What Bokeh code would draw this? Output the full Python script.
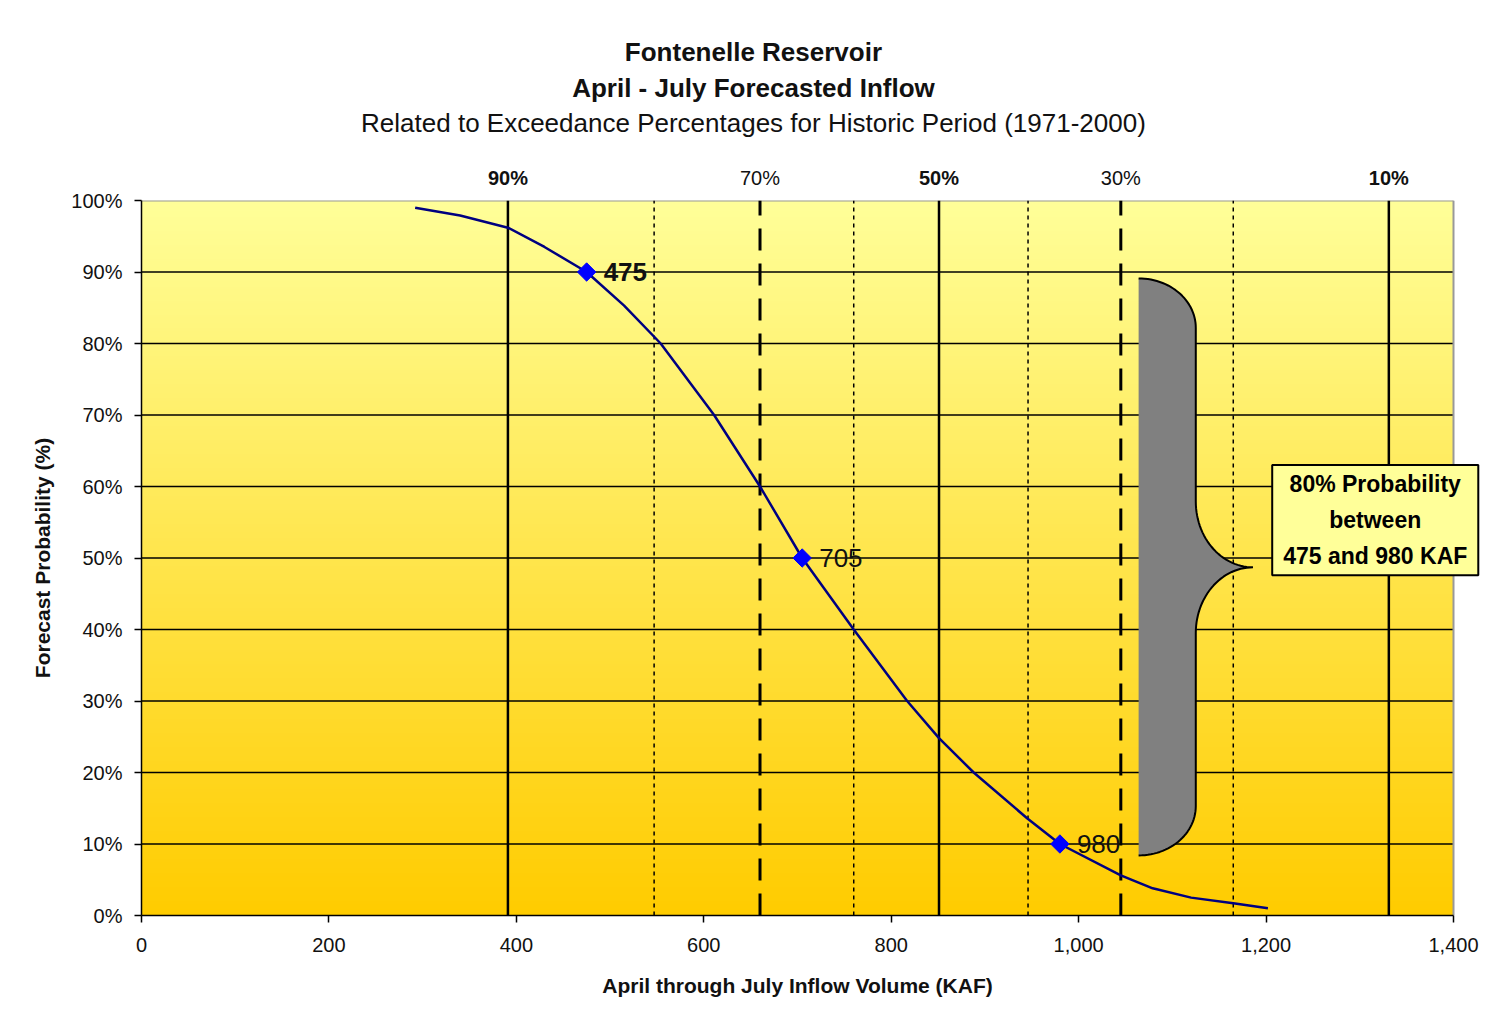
import numpy as np
from bokeh.plotting import figure
from bokeh.layouts import column
from bokeh.models import (Range1d, FixedTicker, PrintfTickFormatter, NumeralTickFormatter,
                          Label, ColumnDataSource)
from bokeh.core.properties import value
from bokeh.embed import file_html
from bokeh.resources import INLINE

# ---------------- data ----------------
curve_kaf = [292, 340, 391, 430, 475, 515, 554, 611, 660, 705, 760, 817, 851,
             888, 945, 980, 1045, 1079, 1120, 1165, 1202]
curve_prob = [99.0, 97.9, 96.2, 93.5, 90.0, 85.3, 80.0, 70.0, 60.0, 50.0, 40.0,
              30.0, 24.8, 20.0, 13.6, 10.0, 5.6, 3.8, 2.5, 1.7, 1.0]

point_kaf = [475, 705, 980]
point_prob = [90, 50, 10]
point_text = ["475", "705", "980"]
point_style = ["bold", "normal", "normal"]

exceed_labels = ["90%", "70%", "50%", "30%", "10%"]
exceed_kaf = [391, 660, 851, 1045, 1331]
exceed_kind = ["solid", "dashed", "solid", "dashed", "solid"]
exceed_style = ["bold", "normal", "bold", "normal", "bold"]
minor_exceed_kaf = [547, 760, 946, 1165]

x_ticks = [0, 200, 400, 600, 800, 1000, 1200, 1400]
y_ticks = [0, 10, 20, 30, 40, 50, 60, 70, 80, 90, 100]

title_lines = ["Fontenelle Reservoir", "April - July Forecasted Inflow",
               "Related to Exceedance Percentages for Historic Period (1971-2000)"]
title_styles = ["bold", "bold", "normal"]
x_label = "April through July Inflow Volume (KAF)"
y_label = "Forecast Probability (%)"

box_text = "80% Probability\nbetween\n475 and 980 KAF"

# brace spanning the 80% interval (data units)
brace_left, brace_shaft, brace_tip = 1064, 1125, 1186
brace_top, brace_mid, brace_bottom = 89.1, 48.7, 8.4
brace_r_end, brace_r_mid = 6.9, 9.2

X_MAX, Y_MAX = 1400, 100
FONT = "Liberation Sans"

# ---------------- layout geometry ----------------
W = 1487
LEFT = 141
TOP_H = 200          # distance from page top to plot-area top
GAP = 12             # part of it kept inside the main figure (room for the 100% label)
PLOT_H = 715         # plot area height
AX_H = 48            # tick label band below plot
XL_H = 1013 - TOP_H - PLOT_H - AX_H
px_per_x = 1312 / X_MAX
px_per_y = PLOT_H / Y_MAX
x_end = (W - LEFT) / px_per_x
xr = Range1d(0, x_end)


def bare_fig(height, y_range):
    f = figure(width=W, height=height, x_range=xr, y_range=y_range, output_backend="svg",
               toolbar_location=None, title=None, x_axis_location=None, y_axis_location=None,
               min_border_left=LEFT, min_border_right=0, min_border_top=0, min_border_bottom=0,
               background_fill_color="white", border_fill_color="white")
    f.outline_line_color = None
    f.xgrid.visible = False
    f.ygrid.visible = False
    return f


# ---------------- top band: titles + exceedance labels ----------------
top = bare_fig(TOP_H - GAP, Range1d(Y_MAX + GAP / px_per_y, Y_MAX + TOP_H / px_per_y))
tsrc = ColumnDataSource(dict(x=[653] * 3, y=[120.7, 115.8, 110.9], text=title_lines,
                             style=title_styles))
top.text(x="x", y="y", text="text", source=tsrc, text_align="center", text_baseline="middle",
         text_font=value(FONT), text_font_size="26px", text_font_style="style",
         text_color="#111111")
label_y = Y_MAX + 23 / px_per_y
esrc = ColumnDataSource(dict(x=exceed_kaf, y=[label_y] * len(exceed_kaf), text=exceed_labels,
                             style=exceed_style))
top.text(x="x", y="y", text="text", source=esrc, text_align="center",
         text_baseline="middle", text_font=value(FONT), text_font_size="20px",
         text_font_style="style", text_color="#111111")

# ---------------- main plot ----------------
p = figure(width=W, height=GAP + PLOT_H + AX_H, x_range=xr, y_range=Range1d(0, Y_MAX),
           output_backend="svg", toolbar_location=None, title=None,
           min_border_left=LEFT, min_border_right=0, min_border_top=GAP, min_border_bottom=AX_H,
           background_fill_color="white", border_fill_color="white")
p.outline_line_color = None
p.xgrid.visible = False
p.ygrid.visible = False

# gradient background of the plot area
n = 256
t = np.linspace(0, 1, n)  # bottom -> top
img = np.empty((n, 1), dtype=np.uint32)
view = img.view(dtype=np.uint8).reshape((n, 1, 4))
view[:, 0, 0] = 255
view[:, 0, 1] = (204 + 51 * t).astype(np.uint8)
view[:, 0, 2] = (153 * t).astype(np.uint8)
view[:, 0, 3] = 255
ir = p.image_rgba(image=[img], x=0, y=0, dw=X_MAX, dh=Y_MAX)
ir.level = "image"

# horizontal grid lines
gy = y_ticks[1:-1]
p.segment(x0=[0] * len(gy), x1=[X_MAX] * len(gy), y0=gy, y1=gy, line_color="black", line_width=1.5)
# gray top / right border of plot area
p.segment(x0=[0, X_MAX], x1=[X_MAX, X_MAX], y0=[Y_MAX, 0], y1=[Y_MAX, Y_MAX],
          line_color="#999999", line_width=2)

# exceedance vertical lines
solid_x = [x for x, k in zip(exceed_kaf, exceed_kind) if k == "solid"]
dashed_x = [x for x, k in zip(exceed_kaf, exceed_kind) if k == "dashed"]
p.segment(x0=solid_x, x1=solid_x, y0=[0] * len(solid_x), y1=[Y_MAX] * len(solid_x),
          line_color="black", line_width=2.5)
p.segment(x0=dashed_x, x1=dashed_x, y0=[0] * len(dashed_x), y1=[Y_MAX] * len(dashed_x),
          line_color="black", line_width=3, line_dash="22 13")
p.segment(x0=minor_exceed_kaf, x1=minor_exceed_kaf, y0=[0] * len(minor_exceed_kaf),
          y1=[Y_MAX] * len(minor_exceed_kaf), line_color="black", line_width=1.5, line_dash="4 4")

# brace
L, S, T = brace_left, brace_shaft, brace_tip
a1 = np.linspace(np.pi / 2, 0, 30)
a2 = np.linspace(np.pi, 1.5 * np.pi, 30)
a3 = np.linspace(0.5 * np.pi, np.pi, 30)
a4 = np.linspace(0, -np.pi / 2, 30)
bx = np.concatenate([L + (S - L) * np.cos(a1), T + (T - S) * np.cos(a2),
                     T + (T - S) * np.cos(a3), L + (S - L) * np.cos(a4)])
by = np.concatenate([(brace_top - brace_r_end) + brace_r_end * np.sin(a1),
                     (brace_mid + brace_r_mid) + brace_r_mid * np.sin(a2),
                     (brace_mid - brace_r_mid) + brace_r_mid * np.sin(a3),
                     (brace_bottom + brace_r_end) + brace_r_end * np.sin(a4)])
p.patch(x=list(bx) + [L], y=list(by) + [brace_top], fill_color="#808080", line_color=None)
p.line(x=bx, y=by, line_color="black", line_width=2)

# curve and points
p.line(x=curve_kaf, y=curve_prob, line_color="#000080", line_width=2.5)
p.scatter(x=point_kaf, y=point_prob, marker="square", angle=np.pi / 4, size=13,
          fill_color="#0000FF", line_color="#0000FF")
src = ColumnDataSource(dict(x=point_kaf, y=point_prob, text=point_text, style=point_style))
p.text(x="x", y="y", text="text", source=src, x_offset=17, text_baseline="middle",
       text_align="left", text_font=value(FONT), text_font_size="26px",
       text_font_style="style", text_color="#111111")

# annotation box
p.add_layout(Label(x=1316.5, y=55.3, text=box_text, text_align="center", text_baseline="middle",
                   text_font=FONT, text_font_size="23px", text_font_style="bold",
                   text_color="black", text_line_height=1.39,
                   background_fill_color="#FFFF99", border_line_color="black",
                   border_line_width=2, padding=dict(left=11, right=11, top=6, bottom=6)))

# axes
for ax in (p.xaxis, p.yaxis):
    ax.axis_line_color = "black"
    ax.axis_line_width = 1.5
    ax.major_tick_line_color = "black"
    ax.major_tick_line_width = 1.5
    ax.major_tick_in = 0
    ax.major_tick_out = 7
    ax.minor_tick_line_color = None
    ax.major_label_text_font = FONT
    ax.major_label_text_font_size = "20px"
    ax.major_label_text_color = "#111111"
    ax.axis_label_text_font = FONT
    ax.axis_label_text_font_size = "21px"
    ax.axis_label_text_font_style = "bold"
    ax.axis_label_text_color = "#111111"

p.xaxis.bounds = (0, X_MAX)
p.xaxis.ticker = FixedTicker(ticks=x_ticks)
p.xaxis.formatter = NumeralTickFormatter(format="0,0")
p.xaxis.major_label_standoff = 15
p.yaxis.ticker = FixedTicker(ticks=y_ticks)
p.yaxis.formatter = PrintfTickFormatter(format="%d%%")
p.yaxis.major_label_standoff = 12
p.yaxis.axis_label = y_label
p.yaxis.axis_label_standoff = 14

# ---------------- x axis title band ----------------
bottom = bare_fig(XL_H, Range1d(0, 1))
bottom.text(x=[X_MAX / 2], y=[0.56], text=[x_label], text_align="center", text_baseline="middle",
            text_font=value(FONT), text_font_size="21px", text_font_style="bold",
            text_color="#111111")

layout = column(top, p, bottom, spacing=0)
open("out.html", "w").write(file_html(layout, INLINE))
